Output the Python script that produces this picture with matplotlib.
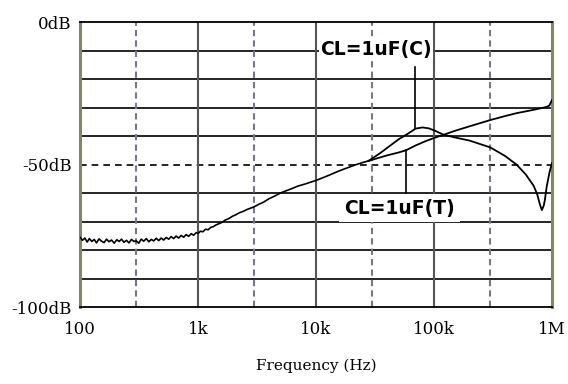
import numpy as np
import matplotlib.pyplot as plt
from matplotlib.ticker import NullLocator

# общий участок (до ~30 кГц обе кривые совпадают)
freq_common = [100, 105, 110, 115, 120, 126, 132, 138, 145, 152, 160, 168, 176, 185,
               195, 205, 215, 225, 236, 248, 260, 273, 287, 300, 315, 330, 347, 365,
               383, 402, 422, 443, 465, 488, 512, 538, 565, 593, 622, 653, 686, 720,
               756, 794, 834, 876, 920, 966, 1000, 1050, 1100, 1160, 1220, 1290, 1350,
               1420, 1500, 1600, 1700, 1820, 1950, 2100, 2250, 2400, 2600, 2800, 3000,
               3300, 3600, 4000, 4500, 5000, 5600, 6300, 7000, 8000, 9000, 10000,
               11500, 13000, 15000, 17000, 19500, 22000, 25000, 28000]
gain_common = [-75.5, -76.6, -75.8, -77.2, -76.0, -77.0, -76.3, -77.5, -76.1, -76.9,
               -77.4, -76.2, -77.1, -76.5, -77.6, -76.4, -77.0, -76.2, -77.3, -76.6,
               -77.5, -76.3, -77.0, -76.8, -77.6, -76.2, -76.9, -76.0, -77.1, -76.3,
               -76.8, -75.9, -76.7, -75.8, -76.5, -75.6, -76.2, -75.3, -76.0, -75.1,
               -75.8, -74.9, -75.5, -74.6, -75.2, -74.3, -74.8, -73.9, -74.2, -73.4,
               -73.6, -72.7, -72.9, -72.0, -71.8, -71.2, -70.8, -70.3, -69.5, -69.0,
               -68.2, -67.6, -66.9, -66.5, -65.8, -65.3, -64.8, -63.9, -63.2, -62.0,
               -61.0, -60.0, -59.2, -58.4, -57.6, -56.9, -56.2, -55.6, -54.6, -53.7,
               -52.6, -51.7, -50.8, -50.0, -49.3, -48.7]

# CL=1uF (T)
freq_t = [28000, 40000, 50000, 58000, 70000, 85000, 100000, 120000, 150000, 200000,
          300000, 400000, 500000, 700000, 900000, 950000, 1000000]
gain_t = [-48.7, -46.8, -45.8, -45.0, -43.3, -41.8, -40.7, -39.6, -38.2, -36.6,
          -34.4, -33.0, -32.0, -30.8, -29.8, -29.3, -27.4]

# CL=1uF (C)
freq_c = [28000, 35000, 40000, 50000, 60000, 70000, 80000, 90000, 100000, 120000,
          150000, 200000, 300000, 400000, 500000, 600000, 700000, 750000, 790000,
          820000, 850000, 870000, 900000, 950000, 1000000]
gain_c = [-48.7, -46.0, -44.2, -41.2, -39.2, -37.4, -37.0, -37.3, -38.0, -39.5,
          -40.5, -41.6, -44.0, -47.0, -50.0, -53.5, -57.5, -60.5, -64.0,
          -66.0, -64.5, -62.5, -58.0, -53.0, -49.5]

x_ticks = [100, 1000, 10000, 100000, 1000000]
x_labels = ["100", "1k", "10k", "100k", "1M"]
y_ticks = [0, -50, -100]
y_labels = ["0dB", "-50dB", "-100dB"]
h_grid = [-10, -20, -30, -40, -60, -70, -80, -90]
v_grid_dec = [1000, 10000, 100000]
v_grid_3 = [300, 3000, 30000, 300000]

fig = plt.figure(figsize=(5.68, 3.84), dpi=100)
ax = fig.add_axes([0.1408, 0.2005, 0.831, 0.7422])
ax.set_xscale("log")
ax.set_xlim(100, 1e6)
ax.set_ylim(-100, 0)

# сетка
for yv in h_grid:
    ax.axhline(yv, color="black", lw=1.2, zorder=1)
ax.axhline(-50, color="black", lw=1.2, ls=(0, (4, 3)), zorder=1)
for xv in v_grid_dec:
    ax.axvline(xv, color="#555555", lw=1.5, zorder=1)
for xv in v_grid_3:
    ax.axvline(xv, color="#77778c", lw=1.5, ls=(0, (3, 2)), zorder=1)

# кривые
ax.plot(freq_c, gain_c, color="black", lw=1.3, zorder=3)
ax.plot(freq_t, gain_t, color="black", lw=1.3, zorder=3)
ax.plot(freq_common, gain_common, color="black", lw=1.2, zorder=3)

# подписи
ax.plot([69000, 69000], [-15.8, -37.2], color="black", lw=1.2, zorder=3)
ax.plot([58000, 58000], [-45.0, -60.0], color="black", lw=1.2, zorder=3)
ax.text(32200, -9.8, "CL=1uF(C)", ha="center", va="center", fontsize=13.5,
        fontweight="bold", zorder=4,
        bbox=dict(facecolor="white", edgecolor="none", pad=1.0))
ax.text(51000, -65.3, "CL=1uF(T)", ha="center", va="center", fontsize=13.5,
        fontweight="bold", zorder=4,
        bbox=dict(facecolor="white", edgecolor="none", pad=3.5))

ax.xaxis.set_minor_locator(NullLocator())
ax.set_xticks(x_ticks, x_labels, fontfamily="DejaVu Serif", fontsize=12)
ax.set_yticks(y_ticks, y_labels, fontfamily="DejaVu Serif", fontsize=12)
ax.tick_params(axis="x", length=0, pad=10)
ax.tick_params(axis="y", length=0, pad=6)
ax.set_xlabel("Frequency (Hz)", fontfamily="DejaVu Serif", fontsize=11, labelpad=15)

for side in ["top", "bottom"]:
    ax.spines[side].set_color("black")
    ax.spines[side].set_linewidth(1.3)
for side in ["left", "right"]:
    ax.spines[side].set_color("#85856a")
    ax.spines[side].set_linewidth(2.2)

fig.savefig("out.png", dpi=100)
